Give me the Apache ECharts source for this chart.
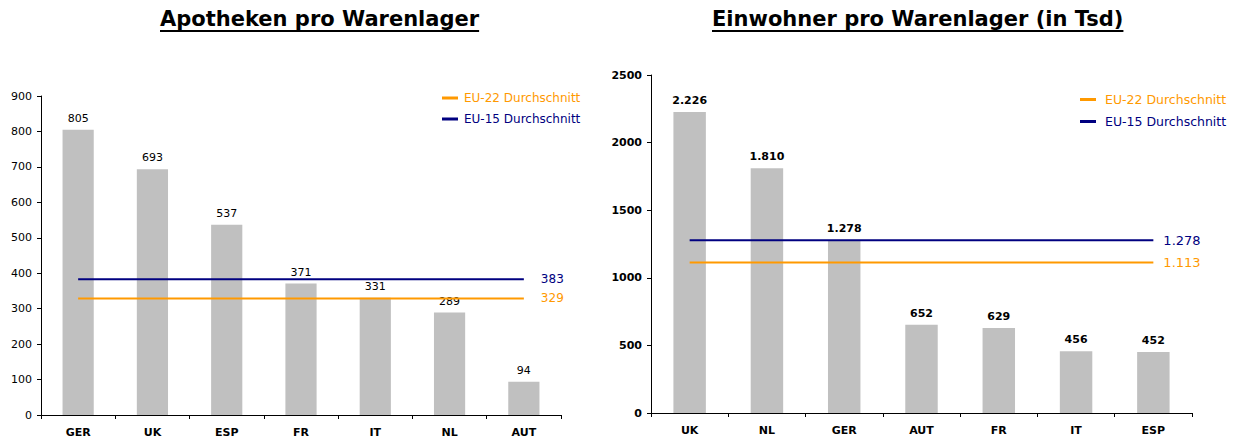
<!DOCTYPE html>
<html>
<head>
<meta charset="utf-8">
<script src="https://cdn.jsdelivr.net/npm/echarts@6/dist/echarts.min.js"></script>
<style>
  html, body { margin: 0; padding: 0; background: #fff; }
  #chart { width: 1244px; height: 443px; }
</style>
</head>
<body>
<div id="chart"></div>
<script>
// Pharmacies per warehouse
const pharmCategories = ['GER', 'UK', 'ESP', 'FR', 'IT', 'NL', 'AUT'];
const pharmValues = [805, 693, 537, 371, 331, 289, 94];
const pharmAvgEU22 = 329;
const pharmAvgEU15 = 383;
const pharmTicks = { min: 0, max: 900, interval: 100 };

// Inhabitants per warehouse (thousands)
const inhabCategories = ['UK', 'NL', 'GER', 'AUT', 'FR', 'IT', 'ESP'];
const inhabValues = [2226, 1810, 1278, 652, 629, 456, 452];
const inhabAvgEU22 = 1113;
const inhabAvgEU15 = 1278;
const inhabTicks = { min: 0, max: 2500, interval: 500 };

const titles = ['Apotheken pro Warenlager', 'Einwohner pro Warenlager (in Tsd)'];
const legendNames = ['EU-22 Durchschnitt', 'EU-15 Durchschnitt'];

const FONT = 'DejaVu Sans';
const ORANGE = '#FF9900';
const NAVY = '#000080';
const BAR = '#C0C0C0';

// German thousands separator
function de(n) {
  return String(Math.round(n)).replace(/\B(?=(\d{3})+(?!\d))/g, '.');
}

const grids = [
  { left: 41, top: 96, width: 520, height: 319 },
  { left: 651, top: 75, width: 541, height: 338 }
];

function measure(text, font) {
  const c = document.createElement('canvas').getContext('2d');
  c.font = font;
  return c.measureText(text).width;
}

const titleSize = 21;
const titleCenters = [320, 918];
const titleFont = 'bold ' + titleSize + 'px "' + FONT + '"';
const titleComps = [];
const underlines = [];
titles.forEach((t, i) => {
  const w = measure(t, titleFont);
  const x = Math.round(titleCenters[i] - w / 2);
  titleComps.push({
    text: t, left: x, top: 8, padding: 0,
    textStyle: { fontFamily: FONT, fontSize: titleSize, fontWeight: 'bold', color: '#000' }
  });
  underlines.push({
    type: 'rect', left: x, top: 30,
    shape: { width: w, height: 2 },
    style: { fill: '#000' }, silent: true
  });
});

function xAxisFor(cats, gridIndex) {
  return {
    type: 'category', data: cats, gridIndex,
    axisLine: { lineStyle: { color: '#000', width: 1 } },
    axisTick: { show: true, length: 4, inside: false, lineStyle: { color: '#000' } },
    axisLabel: { margin: 12, color: '#000', fontFamily: FONT, fontSize: 11, fontWeight: 'bold' },
    splitLine: { show: false }
  };
}
function yAxisFor(ticks, gridIndex, bold) {
  return {
    type: 'value', gridIndex, min: ticks.min, max: ticks.max, interval: ticks.interval,
    axisLine: { show: true, lineStyle: { color: '#000', width: 1 } },
    axisTick: { show: true, length: 4, lineStyle: { color: '#000' } },
    axisLabel: {
      margin: 9, color: '#000', fontFamily: FONT, fontSize: 11,
      fontWeight: bold ? 'bold' : 'normal',
      formatter: v => String(v)
    },
    splitLine: { show: false }
  };
}

function barSeries(vals, idx, bold, fmt) {
  return {
    type: 'bar', xAxisIndex: idx, yAxisIndex: idx, data: vals,
    barWidth: '42%', itemStyle: { color: BAR },
    label: {
      show: true, position: 'top', distance: 6, color: '#000',
      fontFamily: FONT, fontSize: 11, fontWeight: bold ? 'bold' : 'normal',
      formatter: p => fmt(p.value)
    },
    z: 2
  };
}
function avgSeries(name, cats, value, color, idx, fmt, dist, size) {
  return {
    name, type: 'line', xAxisIndex: idx, yAxisIndex: idx,
    data: cats.map(() => value),
    symbol: 'none', lineStyle: { color, width: 2 }, itemStyle: { color },
    endLabel: {
      show: true, distance: dist, color,
      fontFamily: FONT, fontSize: size,
      formatter: p => fmt(p.value)
    },
    z: 3, silent: true
  };
}

function legendAt(left, top, size, gap) {
  return {
    left, top, orient: 'vertical', itemGap: 9, padding: 0,
    itemWidth: 16, itemHeight: 3, icon: 'rect',
    selectedMode: false,
    textStyle: { fontFamily: FONT, fontSize: size, padding: [0, 0, 0, gap] },
    data: [
      { name: legendNames[0], textStyle: { color: ORANGE } },
      { name: legendNames[1], textStyle: { color: NAVY } }
    ]
  };
}

const option = {
  animation: false,
  backgroundColor: '#fff',
  title: titleComps,
  graphic: underlines,
  legend: [legendAt(442, 92, 12, 1), legendAt(1080, 93, 12.5, 4)],
  grid: grids,
  xAxis: [xAxisFor(pharmCategories, 0), xAxisFor(inhabCategories, 1)],
  yAxis: [yAxisFor(pharmTicks, 0, false), yAxisFor(inhabTicks, 1, true)],
  series: [
    barSeries(pharmValues, 0, false, v => String(v)),
    avgSeries(legendNames[0], pharmCategories, pharmAvgEU22, ORANGE, 0, v => String(v), 17, 12),
    avgSeries(legendNames[1], pharmCategories, pharmAvgEU15, NAVY, 0, v => String(v), 17, 12),
    barSeries(inhabValues, 1, true, de),
    avgSeries(legendNames[0], inhabCategories, inhabAvgEU22, ORANGE, 1, de, 10, 13),
    avgSeries(legendNames[1], inhabCategories, inhabAvgEU15, NAVY, 1, de, 10, 13)
  ]
};

const chart = echarts.init(document.getElementById('chart'), null, { renderer: 'svg' });
chart.setOption(option);
</script>
</body>
</html>
